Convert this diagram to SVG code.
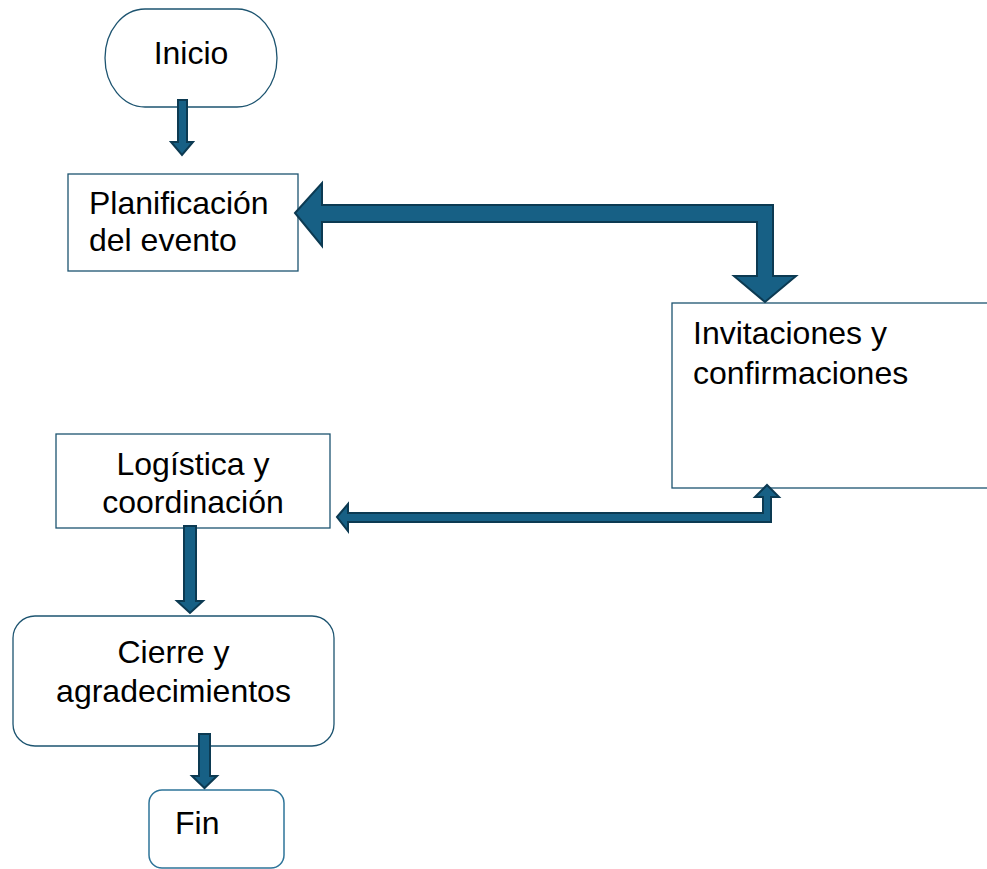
<svg xmlns="http://www.w3.org/2000/svg" width="987" height="869" viewBox="0 0 987 869">
<style>
.box{fill:#ffffff;stroke:#1d5470;stroke-width:1.3}
.fin{fill:#ffffff;stroke:#2e7499;stroke-width:1.5}
.t{font-family:"Liberation Sans",Arial,sans-serif;font-size:32px;fill:#000000}
.arr{fill:#176085;stroke:#0c3a52;stroke-width:2;stroke-linejoin:miter}
</style>
<rect width="987" height="869" fill="#ffffff"/>
<g id="inicio">
<path class="box" d="M145,9 H237 A40,49 0 0 1 237,107 H145 A40,49 0 0 1 145,9 Z"/>
<text class="t" x="191" y="64" text-anchor="middle">Inicio</text>
</g>
<g id="planificacion">
<rect class="box" x="68" y="174" width="230" height="97"/>
<text class="t" x="89" y="214">Planificación</text>
<text class="t" x="89" y="251">del evento</text>
</g>
<g id="invitaciones">
<rect class="box" x="672" y="303" width="330" height="185"/>
<text class="t" x="693" y="344">Invitaciones y</text>
<text class="t" x="693" y="384">confirmaciones</text>
</g>
<g id="logistica">
<rect class="box" x="56" y="434" width="274" height="94"/>
<text class="t" x="193" y="475" text-anchor="middle">Logística y</text>
<text class="t" x="193" y="513" text-anchor="middle">coordinación</text>
</g>
<g id="cierre">
<rect class="box" x="13" y="616" width="321" height="130" rx="22" ry="22"/>
<text class="t" x="173.5" y="663" text-anchor="middle">Cierre y</text>
<text class="t" x="173.5" y="702" text-anchor="middle">agradecimientos</text>
</g>
<g id="fin">
<rect class="fin" x="149" y="790" width="135" height="78" rx="13" ry="13"/>
<text class="t" x="175" y="834">Fin</text>
</g>
<g id="connectors">
<path class="arr" d="M178,100 H187 V142 H193 L182,155 L171,142 H178 Z"/>
<path class="arr" d="M295,213 L322,183 L322,205 L773,205 L773,276 L796,276 L765,302 L734,276 L757,276 L757,222 L322,222 L322,246 Z"/>
<path class="arr" d="M337,517 L348,504 L348,513 L763,513 L763,497 L755,497 L767,485 L779,497 L771,497 L771,522 L348,522 L348,531 Z"/>
<path class="arr" d="M184,526 H196 V601 H203 L190,613 L177,601 H184 Z"/>
<path class="arr" d="M199,734 H210 V776 H217 L204.5,788 L192,776 H199 Z"/>
</g>
</svg>
